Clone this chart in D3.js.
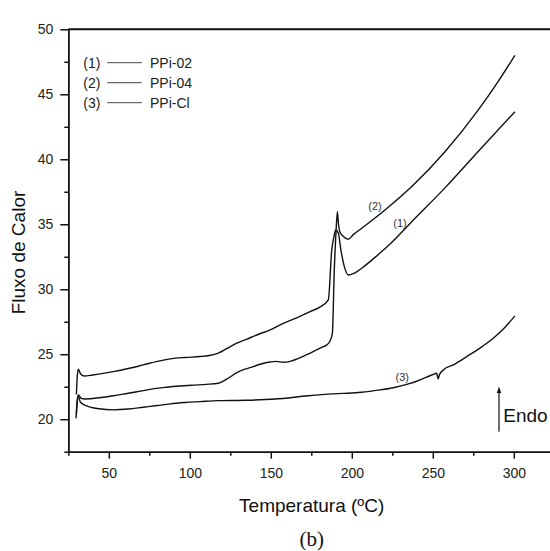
<!DOCTYPE html>
<html>
<head>
<meta charset="utf-8">
<script src="https://cdn.jsdelivr.net/npm/d3@7"></script>
<style>
  body { margin: 0; background: #fff; }
  text { font-family: "Liberation Sans", Arial, sans-serif; }
</style>
</head>
<body>
<svg id="dsc-chart"></svg>
<script>
// PPi-02 (1)
const tempPPi02 = [30, 30.6, 31.2, 32.5, 34.7, 40, 52.8, 62, 71.3, 80, 87.8, 97, 106.3, 112, 117.6, 123, 129, 135, 141.3, 150, 157.7, 166, 174.2, 180, 185.5, 187.6, 189, 190, 191.7, 193.3, 195.4, 197.8, 200.9, 208, 214.3, 224.6, 237, 257.5, 278, 300.7];
const fluxPPi02 = [21.9, 23.4, 23.85, 23.5, 23.33, 23.4, 23.66, 23.9, 24.18, 24.45, 24.64, 24.75, 24.82, 24.9, 25.08, 25.45, 25.85, 26.15, 26.48, 26.9, 27.38, 27.8, 28.28, 28.6, 29.18, 33.0, 34.05, 34.56, 34.3, 33.0, 31.74, 31.1, 31.2, 31.8, 32.45, 33.6, 35.2, 37.8, 40.6, 43.66];

// PPi-04 (2)
const tempPPi04 = [30, 30.6, 31.2, 33, 35.3, 44, 52.8, 62, 71.3, 78, 85.7, 94, 102.2, 110, 117.6, 123, 129, 134, 139.2, 144, 149.5, 153, 157.7, 162, 166, 171, 176.2, 181, 184.5, 186.5, 188, 189.2, 190.3, 191.1, 191.8, 192.6, 194.5, 197.8, 200.9, 206.1, 220.5, 237, 257.5, 278.1, 290.4, 300.7];
const fluxPPi04 = [20.4, 21.5, 21.87, 21.6, 21.56, 21.65, 21.8, 22.0, 22.2, 22.35, 22.46, 22.55, 22.62, 22.68, 22.77, 23.1, 23.58, 23.85, 24.05, 24.25, 24.4, 24.45, 24.38, 24.45, 24.62, 24.9, 25.2, 25.5, 25.72, 26.0, 26.6, 31.5, 34.5, 35.97, 35.0, 34.43, 34.1, 33.85, 34.2, 34.69, 36.1, 37.9, 40.58, 43.8, 46.0, 48.0];

// PPi-Cl (3)
const tempPPiCl = [29.8, 30.4, 31.2, 32.5, 36.3, 44, 52.8, 62, 71.3, 80, 87.8, 97, 106.3, 117.6, 135, 152.6, 173.1, 188.6, 204, 214, 225.6, 234.9, 240, 249.3, 252.4, 253.3, 254.2, 256.5, 263, 271, 280, 287.3, 294, 300.7];
const fluxPPiCl = [20.08, 21.3, 21.74, 21.3, 21.02, 20.8, 20.72, 20.78, 20.92, 21.05, 21.18, 21.28, 21.35, 21.43, 21.46, 21.55, 21.8, 21.95, 22.05, 22.2, 22.42, 22.72, 22.92, 23.4, 23.54, 23.1, 23.45, 23.79, 24.2, 24.82, 25.55, 26.23, 27.0, 27.95];

const legendNumbers = ['(1)', '(2)', '(3)'];
const legendNames = ['PPi-02', 'PPi-04', 'PPi-Cl'];

const xMajorTicks = [50, 100, 150, 200, 250, 300];
const xMinorTicks = [25, 75, 125, 175, 225, 275, 325];
const yMajorTicks = [20, 25, 30, 35, 40, 45, 50];
const yMinorTicks = [17.5, 22.5, 27.5, 32.5, 37.5, 42.5, 47.5];

const WIDTH = 550;
const HEIGHT = 551;
const LEFT = 68.3;
const TOP = 29.3;
const BOTTOM = 451.7;

const svg = d3.select('#dsc-chart').attr('width', WIDTH).attr('height', HEIGHT);

const xScale = d3.scaleLinear().domain([25, 325]).range([LEFT, LEFT + 300 * 1.62]);
const yScale = d3.scaleLinear().domain([17.5, 50]).range([BOTTOM, TOP]);

const series = [
    { temp: tempPPi02, flux: fluxPPi02 },
    { temp: tempPPi04, flux: fluxPPi04 },
    { temp: tempPPiCl, flux: fluxPPiCl }
];

// axes
const xAxisMinor = d3.axisBottom(xScale).tickValues(xMinorTicks).tickSize(4).tickSizeOuter(0).tickFormat('');
const xAxisMajor = d3.axisBottom(xScale).tickValues(xMajorTicks).tickSize(7).tickSizeOuter(0).tickPadding(9);
const yAxisMinor = d3.axisLeft(yScale).tickValues(yMinorTicks).tickSize(4).tickSizeOuter(0).tickFormat('');
const yAxisMajor = d3.axisLeft(yScale).tickValues(yMajorTicks).tickSize(8).tickSizeOuter(0).tickPadding(7);

[xAxisMinor, xAxisMajor].forEach(ax => {
    svg.append('g').attr('class', 'axis').attr('transform', `translate(0, ${BOTTOM})`).call(ax);
});
[yAxisMinor, yAxisMajor].forEach(ax => {
    svg.append('g').attr('class', 'axis').attr('transform', `translate(${LEFT}, 0)`).call(ax);
});

svg.selectAll('.axis path, .axis line').attr('stroke', '#111').attr('stroke-width', 1.5);
svg.selectAll('.axis text')
    .attr('font-size', 14)
    .attr('fill', '#222')
    .style('font-family', '"Liberation Sans", Arial, sans-serif');

// top frame line
svg.append('line')
    .attr('x1', LEFT)
    .attr('x2', WIDTH + 5)
    .attr('y1', yScale(50))
    .attr('y2', yScale(50))
    .attr('stroke', '#111')
    .attr('stroke-width', 2);

// curves
const line = d3.line()
    .x(d => xScale(d[0]))
    .y(d => yScale(d[1]))
    .curve(d3.curveMonotoneX);

svg.selectAll('.curve')
    .data(series)
    .join('path')
    .attr('class', 'curve')
    .attr('fill', 'none')
    .attr('stroke', '#111')
    .attr('stroke-width', 1.4)
    .attr('stroke-linejoin', 'round')
    .attr('d', s => line(s.temp.map((t, i) => [t, s.flux[i]])));

// legend
const legend = svg.selectAll('.legend')
    .data(legendNames)
    .join('g')
    .attr('class', 'legend')
    .attr('transform', (_, i) => `translate(83.3, ${62.7 + i * 20})`);

legend.append('text')
    .attr('dy', '0.35em')
    .attr('font-size', 14)
    .attr('fill', '#222')
    .text((_, i) => legendNumbers[i]);

legend.append('line')
    .attr('x1', 24)
    .attr('x2', 58.4)
    .attr('stroke', '#444')
    .attr('stroke-width', 1);

legend.append('text')
    .attr('x', 66.7)
    .attr('dy', '0.35em')
    .attr('font-size', 14)
    .attr('fill', '#222')
    .text(d => d);

// curve labels
const curveLabels = [
    { text: '(2)', x: 375, y: 205.7 },
    { text: '(1)', x: 400, y: 223.3 },
    { text: '(3)', x: 402.3, y: 376.7 }
];
svg.selectAll('.curve-label')
    .data(curveLabels)
    .join('text')
    .attr('class', 'curve-label')
    .attr('x', d => d.x)
    .attr('y', d => d.y)
    .attr('dy', '0.35em')
    .attr('text-anchor', 'middle')
    .attr('font-size', 11)
    .attr('fill', '#333')
    .text(d => d.text);

// Endo arrow
svg.append('line')
    .attr('x1', 499)
    .attr('x2', 499)
    .attr('y1', 431.7)
    .attr('y2', 391)
    .attr('stroke', '#111')
    .attr('stroke-width', 1.2);
svg.append('path')
    .attr('d', 'M499,386.5 L501.2,393 L496.8,393 Z')
    .attr('fill', '#111');
svg.append('text')
    .attr('x', 503.3)
    .attr('y', 421.7)
    .attr('font-size', 19)
    .attr('fill', '#111')
    .text('Endo');

// axis titles
svg.append('text')
    .attr('x', 311.7)
    .attr('y', 511.7)
    .attr('text-anchor', 'middle')
    .attr('font-size', 19)
    .attr('fill', '#111')
    .text('Temperatura (ºC)');

svg.append('text')
    .attr('transform', 'translate(25, 252.5) rotate(-90)')
    .attr('text-anchor', 'middle')
    .attr('font-size', 19)
    .attr('fill', '#111')
    .text('Fluxo de Calor');

svg.append('text')
    .attr('x', 311.7)
    .attr('y', 546)
    .attr('text-anchor', 'middle')
    .attr('font-size', 21)
    .attr('fill', '#111')
    .style('font-family', '"Liberation Serif", "Times New Roman", serif')
    .text('(b)');
</script>
</body>
</html>
